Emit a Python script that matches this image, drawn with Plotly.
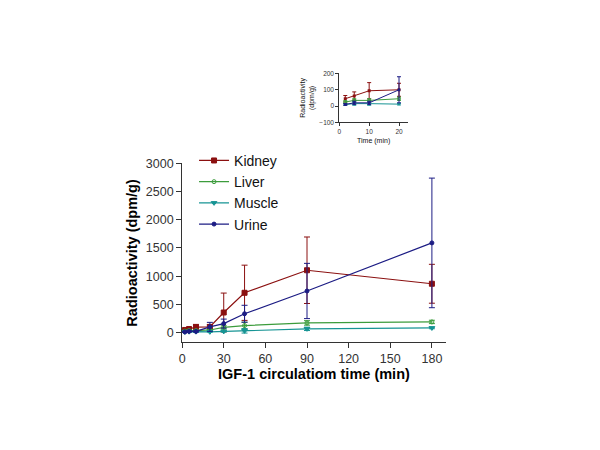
import plotly.graph_objects as go

# ---- data ----
times = [2, 5, 10, 20, 30, 45, 90, 180]
kidney = [45, 62, 94, 100, 355, 705, 1105, 865]
kidney_err = [20, 25, 50, 40, 345, 490, 590, 345]
liver = [25, 35, 35, 45, 90, 123, 170, 188]
liver_err = [8, 10, 10, 10, 30, 60, 40, 30]
muscle = [10, 15, 15, 12, 20, 30, 65, 82]
muscle_err = [5, 10, 10, 5, 10, 40, 30, 15]
urine = [10, 20, 20, 100, 158, 333, 737, 1590]
urine_err = [5, 10, 10, 80, 80, 150, 490, 1150]

series = [
    ("Kidney", kidney, kidney_err, "#8b1010", "square", 5),
    ("Liver", liver, liver_err, "#3c9c3c", "circle-open", 4),
    ("Muscle", muscle, muscle_err, "#169494", "triangle-down", 5),
    ("Urine", urine, urine_err, "#1c1c84", "circle", 4),
]
inset_n = 4  # first four time points shown in the inset

FONT = "Liberation Sans, Arial, sans-serif"

fig = go.Figure()
for name, vals, err, col, sym, ms in series:
    fig.add_trace(go.Scatter(
        x=times, y=vals, name=name, mode="lines+markers",
        line=dict(color=col, width=1.2),
        marker=dict(symbol=sym, size=ms, color=col, line=dict(color=col, width=1)),
        error_y=dict(type="data", array=err, visible=True, color=col, thickness=1, width=3),
        xaxis="x", yaxis="y", legendgroup=name,
    ))
for name, vals, err, col, sym, ms in series:
    fig.add_trace(go.Scatter(
        x=times[:inset_n], y=vals[:inset_n], name=name, mode="lines+markers",
        line=dict(color=col, width=1), showlegend=False,
        marker=dict(symbol=sym, size=3, color=col),
        error_y=dict(type="data", array=err[:inset_n], visible=True, color=col, thickness=1, width=2),
        xaxis="x2", yaxis="y2",
    ))

W, H = 600, 450
def px_x(p): return p / W
def px_y(p): return 1 - p / H

fig.update_layout(
    width=W, height=H, autosize=False,
    margin=dict(l=0, r=0, t=0, b=0),
    paper_bgcolor="white", plot_bgcolor="white",
    font=dict(family=FONT, color="#222"),
    showlegend=True,
    legend=dict(x=px_x(192), y=px_y(141), xanchor="left", yanchor="top",
                font=dict(size=14, color="#111", family=FONT),
                bgcolor="rgba(0,0,0,0)", tracegroupgap=0, borderwidth=0),
    xaxis=dict(domain=[px_x(180), px_x(445)], range=[0, 190], anchor="y",
               tickmode="array", tickvals=[0, 30, 60, 90, 120, 150, 180],
               showline=True, linecolor="#333", linewidth=1, ticks="outside",
               ticklen=5, tickcolor="#333", showgrid=False, zeroline=False,
               tickfont=dict(size=12.5, color="#333"),
               title=dict(text="<b>IGF-1 circulatiom time (min)</b>", font=dict(size=14.5, color="#000"), standoff=2)),
    yaxis=dict(domain=[px_y(343), px_y(160)], range=[-175, 3000], anchor="x",
               tickmode="array", tickvals=[0, 500, 1000, 1500, 2000, 2500, 3000],
               showline=True, linecolor="#333", linewidth=1, ticks="outside",
               ticklen=5, tickcolor="#333", showgrid=False, zeroline=False,
               tickfont=dict(size=12.5, color="#333"),
               title=dict(text="<b>Radioactivity (dpm/g)</b>", font=dict(size=14.5, color="#000"), standoff=4)),
    xaxis2=dict(domain=[px_x(338), px_x(407)], range=[0, 23], anchor="y2",
                tickmode="array", tickvals=[0, 10, 20],
                showline=True, linecolor="#333", linewidth=1, ticks="outside",
                ticklen=3, tickcolor="#333", showgrid=False, zeroline=False,
                tickfont=dict(size=6.5, color="#333"),
                title=dict(text="Time (min)", font=dict(size=7, color="#111"), standoff=3)),
    yaxis2=dict(domain=[px_y(118), px_y(68)], range=[-100, 200], anchor="x2",
                tickmode="array", tickvals=[-100, 0, 100, 200],
                showline=True, linecolor="#333", linewidth=1, ticks="outside",
                ticklen=3, tickcolor="#333", showgrid=False, zeroline=False,
                tickfont=dict(size=6.5, color="#333"),
                title=dict(text="Radioactivity<br>(dpm/g)", font=dict(size=7, color="#111"), standoff=3)),
)

fig.write_html("out.html", config={"displayModeBar": False},
               post_script="document.body.style.margin='0';")
